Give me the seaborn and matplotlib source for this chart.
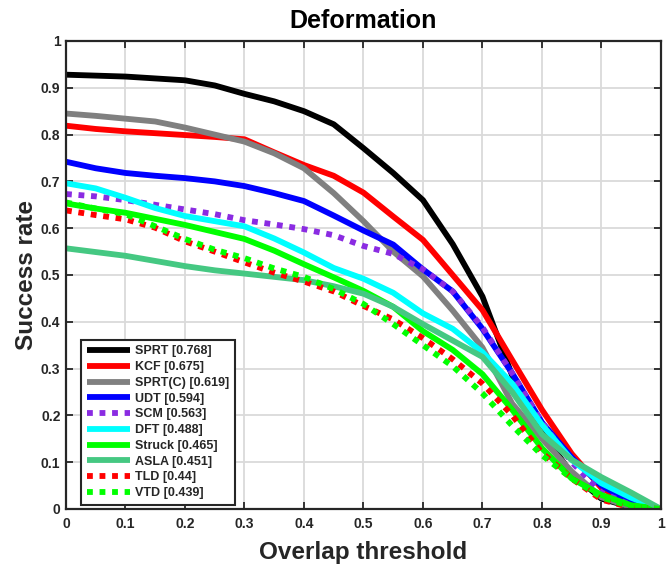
import numpy as np
import pandas as pd
import matplotlib
matplotlib.use("Agg")
import matplotlib.pyplot as plt
import seaborn as sns
from matplotlib.ticker import FuncFormatter

thresholds = [0.0, 0.05, 0.1, 0.15, 0.2, 0.25, 0.3, 0.35, 0.4, 0.45, 0.5,
              0.55, 0.6, 0.65, 0.7, 0.75, 0.8, 0.85, 0.9, 0.95, 1.0]

sprt = [0.928, 0.926, 0.924, 0.920, 0.916, 0.905, 0.887, 0.871, 0.850, 0.822, 0.771,
        0.718, 0.660, 0.566, 0.454, 0.285, 0.165, 0.075, 0.022, 0.004, 0.0]
kcf = [0.819, 0.812, 0.807, 0.803, 0.799, 0.795, 0.790, 0.762, 0.735, 0.712, 0.676,
       0.625, 0.575, 0.500, 0.425, 0.318, 0.212, 0.118, 0.045, 0.010, 0.0]
sprtc = [0.845, 0.840, 0.834, 0.828, 0.815, 0.800, 0.785, 0.760, 0.728, 0.675, 0.615,
         0.550, 0.497, 0.424, 0.345, 0.225, 0.150, 0.080, 0.025, 0.004, 0.0]
udt = [0.742, 0.728, 0.718, 0.712, 0.707, 0.700, 0.690, 0.675, 0.658, 0.627, 0.595,
       0.565, 0.512, 0.465, 0.385, 0.290, 0.185, 0.110, 0.050, 0.015, 0.0]
scm = [0.673, 0.668, 0.660, 0.650, 0.640, 0.630, 0.617, 0.608, 0.598, 0.585, 0.562,
       0.545, 0.512, 0.465, 0.388, 0.290, 0.185, 0.100, 0.035, 0.008, 0.0]
dft = [0.696, 0.685, 0.665, 0.643, 0.626, 0.615, 0.604, 0.578, 0.548, 0.515, 0.492,
       0.462, 0.418, 0.385, 0.335, 0.268, 0.180, 0.105, 0.055, 0.024, 0.0]
struck = [0.653, 0.642, 0.633, 0.620, 0.607, 0.592, 0.577, 0.552, 0.523, 0.495, 0.466,
          0.432, 0.380, 0.340, 0.288, 0.212, 0.130, 0.065, 0.030, 0.008, 0.0]
asla = [0.557, 0.549, 0.541, 0.530, 0.519, 0.510, 0.503, 0.496, 0.489, 0.476, 0.460,
        0.432, 0.395, 0.360, 0.325, 0.250, 0.160, 0.105, 0.068, 0.035, 0.0]
tld = [0.638, 0.628, 0.619, 0.601, 0.572, 0.550, 0.527, 0.505, 0.486, 0.465, 0.434,
       0.405, 0.365, 0.320, 0.268, 0.200, 0.120, 0.065, 0.020, 0.003, 0.0]
vtd = [0.655, 0.642, 0.630, 0.604, 0.577, 0.554, 0.536, 0.514, 0.496, 0.470, 0.438,
       0.395, 0.350, 0.305, 0.247, 0.178, 0.115, 0.065, 0.025, 0.005, 0.0]

labels = ["SPRT [0.768]", "KCF [0.675]", "SPRT(C) [0.619]", "UDT [0.594]",
          "SCM [0.563]", "DFT [0.488]", "Struck [0.465]", "ASLA [0.451]",
          "TLD [0.44]", "VTD [0.439]"]
series = [sprt, kcf, sprtc, udt, scm, dft, struck, asla, tld, vtd]
colors = ["#000000", "#FF0000", "#808080", "#0000FF", "#8A2BE2",
          "#00FFFF", "#00FF00", "#45C882", "#FF0000", "#00FF00"]
dotted = [False, False, False, False, True, False, False, False, True, True]

sns.set_theme(style="white")
plt.rcParams['font.family'] = ['Liberation Sans', 'DejaVu Sans']
plt.rcParams['font.weight'] = 'bold'

fig = plt.figure(figsize=(6.7, 5.67), dpi=100)
ax = fig.add_axes([0.0985, 0.1023, 0.888, 0.8254])

for lab, vals, col, dot in zip(labels, series, colors, dotted):
    df = pd.DataFrame({"threshold": thresholds, "rate": vals})
    sns.lineplot(data=df, x="threshold", y="rate", ax=ax, color=col,
                 linewidth=4.2, label=lab, legend=False)
    ln = ax.lines[-1]
    if dot:
        ln.set_linestyle((0, (1.0, 1.15)))
        ln.set_dash_capstyle("butt")
    ln.set_solid_capstyle("butt")

ax.set_xlim(0, 1)
ax.set_ylim(0, 1)
ticks = [0, 0.1, 0.2, 0.3, 0.4, 0.5, 0.6, 0.7, 0.8, 0.9, 1]
ax.set_xticks(ticks)
ax.set_yticks(ticks)
fmt = FuncFormatter(lambda v, p: "0" if abs(v) < 1e-9 else ("1" if abs(v - 1) < 1e-9 else f"{v:.1f}"))
ax.xaxis.set_major_formatter(fmt)
ax.yaxis.set_major_formatter(fmt)
ax.tick_params(axis="both", which="major", direction="in", length=5, width=1.3,
               labelsize=10, colors="#262626", top=True, right=True,
               bottom=True, left=True)
ax.tick_params(axis="x", pad=6)
ax.tick_params(axis="y", pad=4)
for t in ax.get_xticklabels() + ax.get_yticklabels():
    t.set_fontweight("bold")
ax.grid(True, color="#DADADA", linewidth=1.3)
ax.set_axisbelow(True)
for sp in ax.spines.values():
    sp.set_color("#262626")
    sp.set_linewidth(1.6)

ax.set_title("Deformation", fontsize=18, fontweight="bold", pad=9, color="black")
ax.set_xlabel("Overlap threshold", fontsize=17.5, fontweight="bold", labelpad=7, color="#262626")
ax.set_ylabel("Success rate", fontsize=17.5, fontweight="bold", labelpad=2, color="#262626")

leg = ax.legend(loc="lower left", bbox_to_anchor=(0.026, 0.009), borderaxespad=0,
                fancybox=False, framealpha=1, edgecolor="#262626",
                prop={"weight": "bold", "size": 9}, handlelength=3.4,
                handletextpad=0.45, labelspacing=0.3, borderpad=0.45)
leg.get_frame().set_linewidth(1.5)

fig.savefig("out.png", dpi=100)
